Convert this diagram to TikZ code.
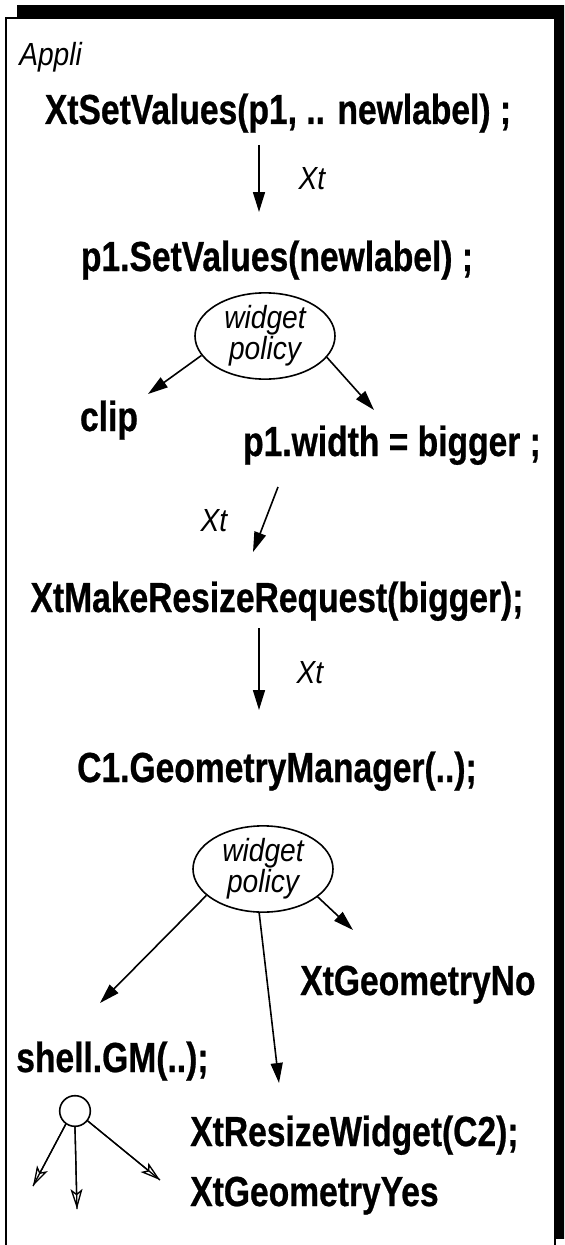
\documentclass[tikz,border=0pt]{standalone}
\usepackage{fontspec}
\usetikzlibrary{arrows.meta,shapes.geometric}
\newfontfamily\codefont[FakeStretch=0.80,FakeBold=0.6]{Liberation Sans}
\newfontfamily\notefont[FakeStretch=0.88]{Liberation Sans}
\begin{document}
\begin{tikzpicture}[x=0.75pt,y=-0.75pt,
  codetxt/.style={font=\codefont\bfseries\fontsize{31.5}{36}\selectfont, inner sep=0pt, anchor=base},
  notetxt/.style={font=\notefont\itshape\fontsize{24}{21}\selectfont, inner sep=0pt},
  flowarrow/.style={line width=1.2pt, -{Triangle[length=15pt,width=9pt]}},
  forkline/.style={line width=1pt},
  forkarrow/.style={line width=1pt, -{Stealth[open,length=15pt,width=9pt,inset=3.5pt]}},
  policyshape/.style={ellipse, draw, line width=1.2pt, minimum width=105pt,
    minimum height=64.5pt, inner sep=0pt, align=center, notetxt}
]
% page frame with a dark offset shadow
\clip (0,0) rectangle (564,1245);
\fill[black] (17,5) rectangle (580,1239);
\filldraw[fill=white, line width=1.3pt] (6,18) rectangle (555,1270);

% texts
\node[notetxt, anchor=base west] (appli) at (19,66) {Appli};
\node[codetxt] (setv) at (278,124) {XtSetValues(p1, .. newlabel) ;};
\node[codetxt] (p1set) at (277,271) {p1.SetValues(newlabel) ;};
\node[policyshape] (pol1) at (265,336) {widget\\policy};
\node[codetxt] (clip) at (109,431) {clip};
\node[codetxt] (p1w) at (392,456) {p1.width = bigger ;};
\node[codetxt] (mrr) at (277,612) {XtMakeResizeRequest(bigger);};
\node[codetxt] (gm) at (277,782) {C1.GeometryManager(..);};
\node[policyshape] (pol2) at (263,869) {widget\\policy};
\node[codetxt, anchor=base west] (gno) at (300,995) {XtGeometryNo};
\node[codetxt, anchor=base west] (shell) at (16,1072) {shell.GM(..);};
\node[codetxt, anchor=base west] (resize) at (190,1146) {XtResizeWidget(C2);};
\node[codetxt, anchor=base west] (gyes) at (190,1206) {XtGeometryYes};
\node[draw, circle, line width=1.2pt, minimum size=23pt, inner sep=0pt] (hub) at (75,1111) {};

\node[notetxt] (xt1) at (312,179) {Xt};
\node[notetxt] (xt2) at (214,521) {Xt};
\node[notetxt] (xt3) at (310,673) {Xt};

% arrow ends
\coordinate (setvfoot) at (259,145);
\coordinate (p1sethead) at (259,212);
\coordinate (cliphead) at (148,394);
\coordinate (p1whead) at (374,410);
\coordinate (p1wfoot) at (278,487);
\coordinate (mrrhead) at (253,552);
\coordinate (mrrfoot) at (259,628);
\coordinate (gmhead) at (259,710);
\coordinate (shellhead) at (100,1003);
\coordinate (resizehead) at (279,1083);
\coordinate (gnohead) at (353,930);
\coordinate (forka) at (33,1186);
\coordinate (forkb) at (77,1209);
\coordinate (forkc) at (160,1180);

% connectors
\draw[flowarrow] (setvfoot) -- (p1sethead);
\draw[flowarrow] (pol1.197) -- (cliphead);
\draw[flowarrow] (pol1.-19) -- (p1whead);
\draw[flowarrow] (p1wfoot) -- (mrrhead);
\draw[flowarrow] (mrrfoot) -- (gmhead);
\draw[flowarrow] (pol2.205) -- (shellhead);
\draw[flowarrow] (pol2.265) -- (resizehead);
\draw[flowarrow] (pol2.-27) -- (gnohead);

\draw[forkline] (hub.235) -- (forka);
\draw[forkline] (hub.270) -- (forkb);
\draw[forkline] (hub.-38) -- (forkc);
\draw[forkarrow] (hub.235) -- (forka);
\draw[forkarrow] (hub.270) -- (forkb);
\draw[forkarrow] (hub.-38) -- (forkc);
\end{tikzpicture}
\end{document}
